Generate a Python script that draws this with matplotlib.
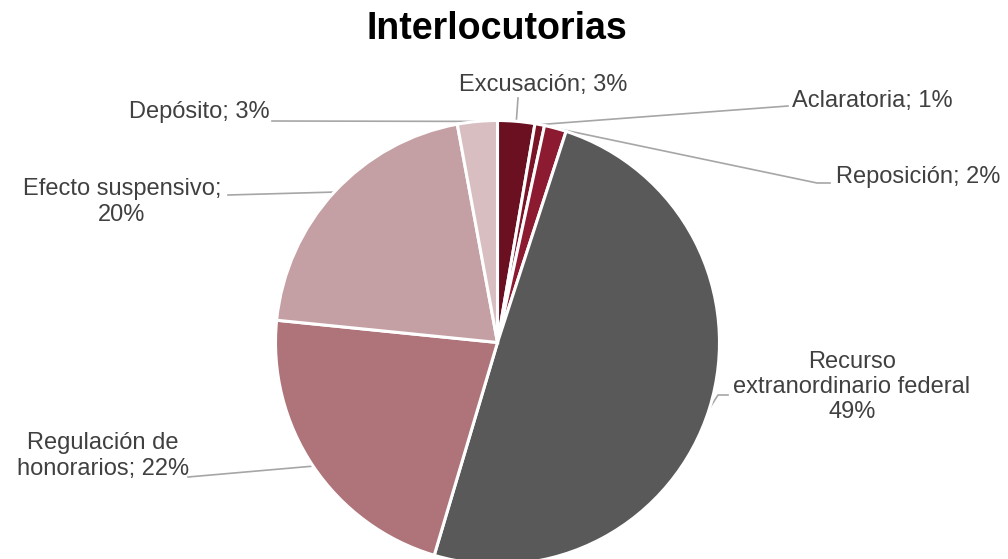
import numpy as np
import matplotlib.pyplot as plt

plt.rcParams['font.family'] = ['Liberation Sans', 'DejaVu Sans']

W, H = 1008, 559

label_texts = ['Excusación; 3%', 'Aclaratoria; 1%', 'Reposición; 2%',
               'Recurso\nextranordinario federal\n49%',
               'Regulación de\nhonorarios; 22%',
               'Efecto suspensivo;\n20%', 'Depósito; 3%']
# shares
values = [2.7, 0.7, 1.6, 49.6, 22.0, 20.5, 2.9]
colors = ['#6B1020', '#7A1426', '#8C1A30', '#595959', '#AE7479', '#C4A0A4', '#D8BEC1']

# layout in pixels from the top: text anchor, alignment, leader waypoints
text_pos = [(543, 85, 'center'), (792, 101, 'left'), (836, 177, 'left'),
            (852, 387, 'center'), (103, 456, 'center'), (122, 202, 'center'),
            (270, 112, 'right')]
leaders = [[(518, 98)], [(788, 106)], [(817, 183), (830, 183)],
           [(718, 395), (728, 395)], [(188, 477)], [(228, 195)], [(272, 121)]]

cx, cy, r = 497.5, H - 342.5, 222

fig = plt.figure(figsize=(W / 100, H / 100), dpi=100)
ax = fig.add_axes([0, 0, 1, 1])
wedges, _ = ax.pie(values, colors=colors, startangle=90, counterclock=False,
                   center=(cx, cy), radius=r,
                   wedgeprops=dict(edgecolor='white', linewidth=2.2))
ax.set_xlim(0, W)
ax.set_ylim(0, H)
ax.set_aspect('equal')
ax.axis('off')

for w, txt, (tx, ty, ha), pts in zip(wedges, label_texts, text_pos, leaders):
    ang = np.deg2rad((w.theta1 + w.theta2) / 2)
    ax_ = cx + r * np.cos(ang)
    ay_ = cy + r * np.sin(ang)
    xs = [ax_] + [p[0] for p in pts]
    ys = [ay_] + [H - p[1] for p in pts]
    ax.plot(xs, ys, color='#A6A6A6', lw=1.2, zorder=0.5)
    ax.text(tx, H - ty, txt, ha=ha, va='center', multialignment='center',
            fontsize=17, color='#404040')

ax.text(497, H - 29, 'Interlocutorias', ha='center', va='center',
        fontsize=27, fontweight='bold', color='#000000')

fig.savefig('out.png', dpi=100)
